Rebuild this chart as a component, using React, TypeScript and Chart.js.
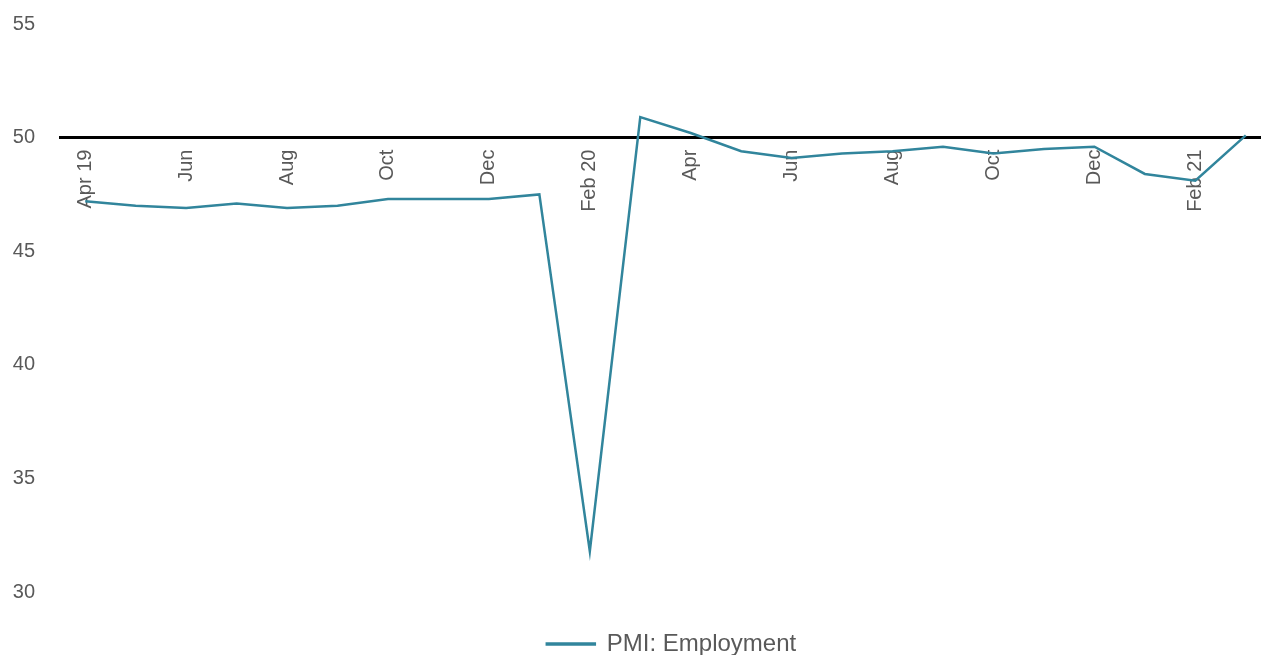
import React, { useEffect, useRef } from "react";
import { Chart, registerables } from "chart.js";

Chart.register(...registerables);

// Monthly survey readings, Apr 2019 – Mar 2021
const months = [
  "Apr 19", "May", "Jun", "Jul", "Aug", "Sep", "Oct", "Nov", "Dec",
  "Jan 20", "Feb 20", "Mar", "Apr", "May", "Jun", "Jul", "Aug", "Sep",
  "Oct", "Nov", "Dec", "Jan 21", "Feb 21", "Mar",
];
const employment = [
  47.2, 47.0, 46.9, 47.1, 46.9, 47.0, 47.3, 47.3, 47.3, 47.5, 31.8, 50.9,
  50.2, 49.4, 49.1, 49.3, 49.4, 49.6, 49.3, 49.5, 49.6, 48.4, 48.1, 50.1,
];
const seriesName = "PMI: Employment";
const yTicks = [30, 35, 40, 45, 50, 55];

const LINE_COLOR = "#31859c";
const TEXT_COLOR = "#595959";
const FONT_FAMILY = "'Liberation Sans', Arial, sans-serif";

// Nudges the legend box to sit under the plot, slightly right of centre.
const legendOffset = {
  id: "legendOffset",
  afterLayout(chart: any) {
    const lg = chart.legend;
    if (!lg) return;
    const dx = 36;
    const dy = 30;
    lg.left += dx;
    lg.right += dx;
    lg.top += dy;
    lg.bottom += dy;
  },
};

export default function App() {
  const canvasRef = useRef<HTMLCanvasElement | null>(null);

  useEffect(() => {
    const canvas = canvasRef.current;
    if (!canvas) return;
    const chart = new Chart(canvas, {
      type: "line",
      data: {
        labels: months,
        datasets: [
          {
            label: seriesName,
            data: employment,
            borderColor: LINE_COLOR,
            backgroundColor: LINE_COLOR,
            borderWidth: 2.5,
            pointRadius: 0,
            pointHoverRadius: 0,
            tension: 0,
            fill: false,
          },
        ],
      },
      options: {
        responsive: false,
        animation: false,
        devicePixelRatio: 1,
        layout: { padding: { top: 24, bottom: 19, left: 0, right: 0 } },
        plugins: {
          tooltip: { enabled: false },
          legend: {
            position: "bottom",
            labels: {
              color: TEXT_COLOR,
              font: { family: FONT_FAMILY, size: 24 },
              boxWidth: 48,
              boxHeight: 1,
              padding: 10,
            },
          },
        },
        scales: {
          x: {
            type: "category",
            offset: true,
            position: { y: 50 } as any,
            grid: { display: false, drawTicks: false },
            border: { display: true, color: "#000000", width: 3 },
            afterFit: (s: any) => {
              s.paddingLeft = 0;
              s.paddingRight = 0;
              s.paddingTop = 0;
              s.paddingBottom = 0;
            },
            ticks: {
              autoSkip: false,
              maxRotation: 90,
              minRotation: 90,
              padding: 12,
              color: TEXT_COLOR,
              font: { family: FONT_FAMILY, size: 20 },
              callback: (_v: any, i: number) => (i % 2 === 0 ? months[i] : ""),
            },
          },
          y: {
            min: yTicks[0],
            max: yTicks[yTicks.length - 1],
            grid: { display: false, drawTicks: false },
            border: { display: false },
            afterFit: (s: any) => {
              s.width = 60;
              s.paddingTop = 0;
              s.paddingBottom = 0;
            },
            afterBuildTicks: (s: any) => {
              s.ticks = yTicks.map((v) => ({ value: v }));
            },
            ticks: {
              padding: 25,
              color: TEXT_COLOR,
              font: { family: FONT_FAMILY, size: 20 },
            },
          },
        },
      },
      plugins: [legendOffset],
    });
    return () => chart.destroy();
  }, []);

  return (
    <div
      style={{
        position: "absolute",
        left: 0,
        top: 0,
        width: 1261,
        height: 655,
        overflow: "hidden",
        background: "#ffffff",
      }}
    >
      <canvas ref={canvasRef} width={1271} height={655} />
    </div>
  );
}
